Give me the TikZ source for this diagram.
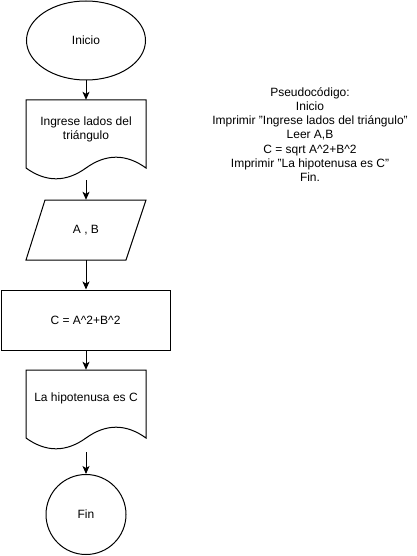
\documentclass[tikz,border=0pt]{standalone}
\usepackage{fontspec}
\setmainfont{Liberation Sans}[Ligatures=NoCommon]
\usetikzlibrary{shapes.geometric,arrows.meta}
\newcommand{\dq}{\symbol{34}}
\begin{document}
\begin{tikzpicture}[x=1pt,y=-1pt,
  every node/.style={font=\fontsize{12pt}{14.2pt}\selectfont, text=black, inner sep=0pt},
  shapeline/.style={draw=black, line width=1pt, fill=white},
  holder/.style={draw=none, minimum width=120pt, minimum height=80pt},
  flow/.style={draw=black, line width=1pt, -{Stealth[length=8pt,width=7pt,inset=2pt]}}]
\useasboundingbox (0,0) rectangle (416,556);
% Inicio
\node[shapeline, ellipse, minimum width=119pt, minimum height=79pt] (inicio) at (86,40.5) {Inicio};
% Document 1
\draw[shapeline] (26,100) -- (146,100) -- (146,168)
  .. controls (126,153.6) and (106,153.6) .. (86,168)
  .. controls (66,182.4) and (46,182.4) .. (26,168) -- cycle;
\node[holder] (doc1) at (86,140) {};
\node[align=center] (doc1t) at (86,129.5) {Ingrese lados del\\triángulo};
% Parallelogram
\draw[shapeline] (45,200) -- (146,200) -- (126,260) -- (26,260) -- cycle;
\node[holder, minimum height=60pt] (leer) at (86,230) {A , B};
% Process
\node[shapeline, minimum width=169pt, minimum height=60pt] (calc) at (85.5,320) {C = A\^{}2+B\^{}2};
% Document 2
\draw[shapeline] (26,370) -- (146,370) -- (146,438)
  .. controls (126,423.6) and (106,423.6) .. (86,438)
  .. controls (66,452.4) and (46,452.4) .. (26,438) -- cycle;
\node[holder] (doc2) at (86,410) {};
\node (doc2t) at (86,398) {La hipotenusa es C};
% Fin
\node[shapeline, circle, minimum size=80pt] (fin) at (86,514.5) {Fin};
% connectors
\draw[flow] (inicio.south) -- (doc1.north);
\draw[flow] (doc1.south) -- (leer.north);
\draw[flow] (leer.south) -- (calc.north -| leer.south);
\draw[flow] (calc.south -| leer.south) -- (doc2.north);
\draw[flow] (doc2.south) ++(0,2) coordinate (d2s) (d2s) -- (fin.north);
% pseudocode
\node[align=center] (pseudo) at (310,134.5) {Pseudocódigo:\\Inicio\\Imprimir \dq Ingrese lados del triángulo\dq\\Leer A,B\\C = sqrt A\^{}2+B\^{}2\\Imprimir \dq La hipotenusa es C\dq\\Fin.};
\end{tikzpicture}
\end{document}
